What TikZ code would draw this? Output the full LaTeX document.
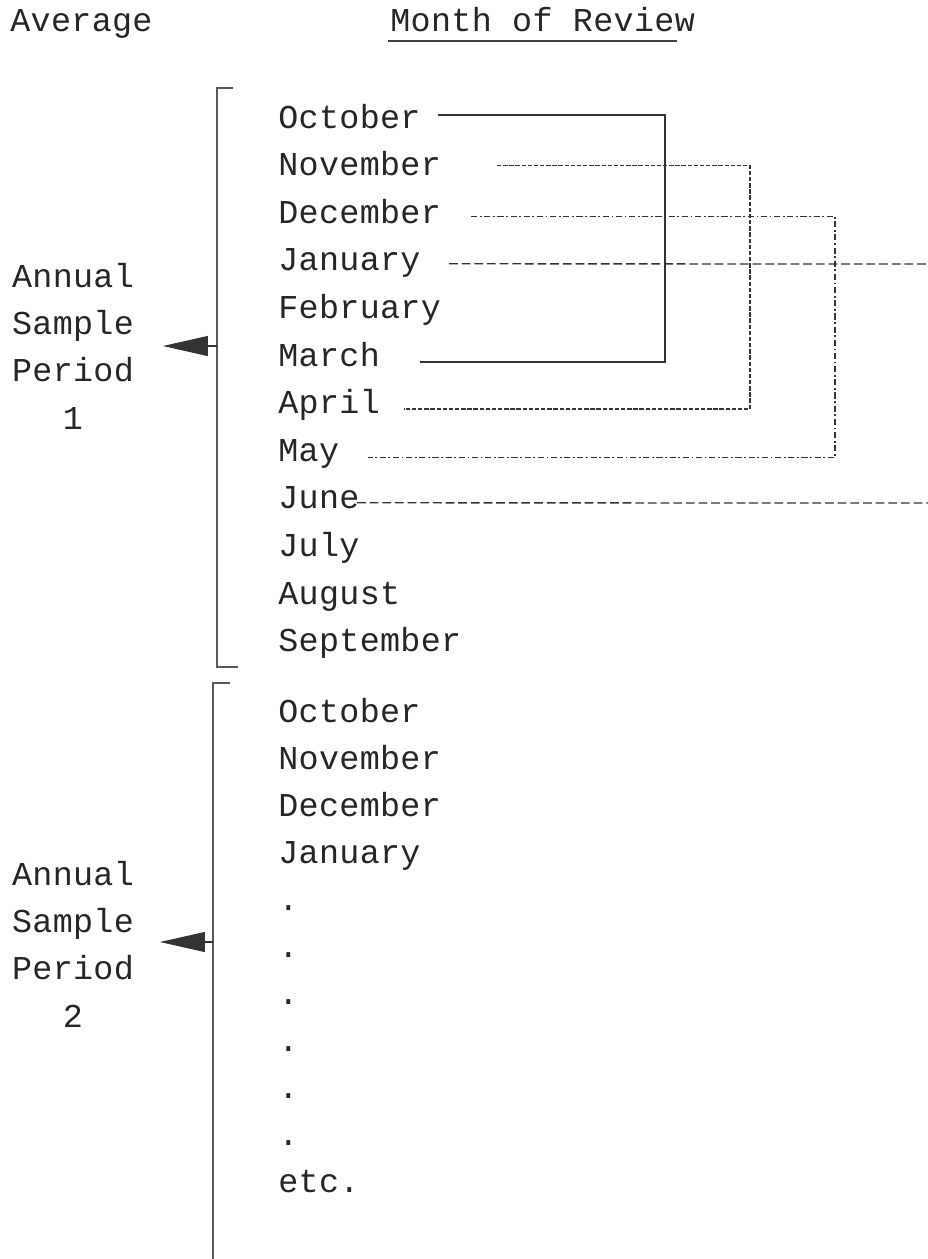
\documentclass[tikz,border=0pt]{standalone}
\usepackage{fontspec}
\usepackage{tikz}
\usetikzlibrary{arrows.meta}
\newfontfamily\typew[LetterSpace=1]{Liberation Mono}

\begin{document}
\begin{tikzpicture}[x=0.02cm,y=-0.02cm,
  monthtxt/.style={anchor=base west,inner sep=0pt,text=black!85,font=\typew\fontsize{19}{27}\selectfont},
  sidetxt/.style={monthtxt,anchor=base,align=center},
  brace/.style={draw=black!65,line width=1pt},
  solidlink/.style={draw=black!80,line width=0.75pt},
  finedash/.style={solidlink,dash pattern=on 2.5pt off 1pt},
  dashdot/.style={solidlink,dash pattern=on 3.5pt off 1.5pt on 1pt off 1.5pt},
  longdash/.style={solidlink,dash pattern=on 5pt off 2.2pt},
  pointer/.style={draw=black!80,line width=0.6pt,-{Triangle[length=0.9cm,width=0.4cm]}}]
\useasboundingbox (0,0) rectangle (928,1259);

\node[monthtxt] (avg) at (10,31) {Average};
\node[monthtxt] (mor) at (390,31) {Month of Review};
\draw[line width=1.2pt,black!75] ([shift={(-2,10)}]mor.base west) -- ([shift={(287,10)}]mor.base west);

% first year
\draw[brace] (233,88) -- (217,88) -- (217,667) -- (238,667);
\node[monthtxt] (oct1) at (278,128) {October};
\node[monthtxt] (nov1) at (278,175.6) {November};
\node[monthtxt] (dec1) at (278,223.2) {December};
\node[monthtxt] (jan1) at (278,270.8) {January};
\node[monthtxt] (feb1) at (278,318.4) {February};
\node[monthtxt] (mar1) at (278,366) {March};
\node[monthtxt] (apr1) at (278,413.6) {April};
\node[monthtxt] (may1) at (278,461.2) {May};
\node[monthtxt] (jun1) at (278,508.8) {June};
\node[monthtxt] (jul1) at (278,556.4) {July};
\node[monthtxt] (aug1) at (278,604) {August};
\node[monthtxt] (sep1) at (278,651.6) {September};

\node[sidetxt] (asp1) at (73,429.3) {Annual\\Sample\\Period\\1};
\coordinate (brk1) at (217,346);
\coordinate (tip1) at (163,346);
\draw[pointer] (brk1) -- (tip1);

% links between months
\draw[solidlink] ([shift={(160,-13)}]oct1.base west) -| ([shift={(387,-4)}]mar1.base west) -- ([shift={(142,-4)}]mar1.base west);
\draw[finedash] ([shift={(219,-10)}]nov1.base west) -| ([shift={(472,-4.5)}]apr1.base west) -- ([shift={(126,-4.5)}]apr1.base west);
\draw[dashdot] ([shift={(193,-7)}]dec1.base west) -| ([shift={(557,-4)}]may1.base west) -- ([shift={(90,-4)}]may1.base west);
\coordinate (rimj) at (930,264);
\coordinate (rimu) at (930,503);
\draw[longdash] ([shift={(171,-7)}]jan1.base west) -- (rimj);
\draw[longdash] ([shift={(79,-6)}]jun1.base west) -- (rimu);

% second year
\draw[brace] (230,683) -- (213,683) -- (213,1262);
\node[monthtxt] (oct2) at (278,722) {October};
\node[monthtxt] (nov2) at (278,769) {November};
\node[monthtxt] (dec2) at (278,816) {December};
\node[monthtxt] (jan2) at (278,863) {January};
\node[monthtxt] (dot1) at (278,910) {.};
\node[monthtxt] (dot2) at (278,957) {.};
\node[monthtxt] (dot3) at (278,1004) {.};
\node[monthtxt] (dot4) at (278,1051) {.};
\node[monthtxt] (dot5) at (278,1098) {.};
\node[monthtxt] (dot6) at (278,1145) {.};
\node[monthtxt] (etc2) at (278,1192) {etc.};

\node[sidetxt] (asp2) at (73,1027.3) {Annual\\Sample\\Period\\2};
\coordinate (brk2) at (213,942);
\coordinate (tip2) at (160,942);
\draw[pointer] (brk2) -- (tip2);

\end{tikzpicture}
\end{document}
